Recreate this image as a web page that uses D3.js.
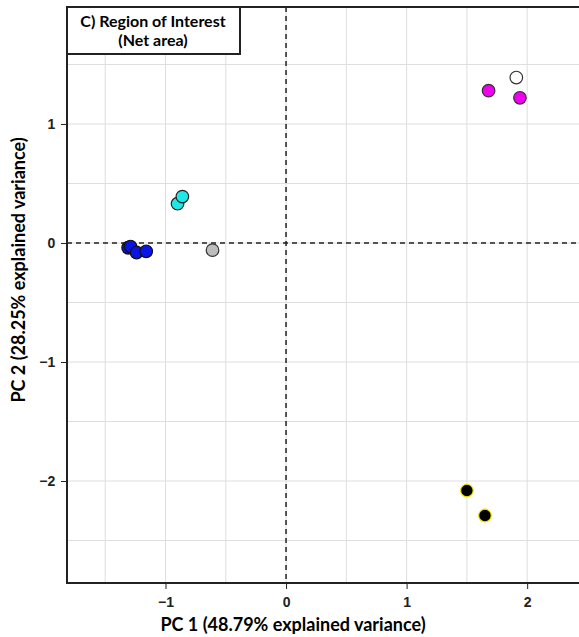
<!DOCTYPE html>
<html>
<head>
<meta charset="utf-8">
<script src="https://cdn.jsdelivr.net/npm/d3@7"></script>
<style>
  body { margin: 0; background: #fff; }
  svg { display: block; font-family: Lato, "Open Sans", sans-serif; }
</style>
</head>
<body>
<svg id="chart" width="579" height="637"></svg>
<script>
// PCA scores
var groups = ["blue", "cyan", "gray", "magenta", "white", "black"];
var pc1 = [-1.31, -1.29, -1.24, -1.16, -0.90, -0.86, -0.61, 1.68, 1.94, 1.91, 1.50, 1.65];
var pc2 = [-0.04, -0.03, -0.08, -0.07, 0.33, 0.39, -0.06, 1.28, 1.22, 1.39, -2.08, -2.29];
var group = ["blue", "blue", "blue", "blue", "cyan", "cyan", "gray", "magenta", "magenta", "white", "black", "black"];
var fills = ["#0a14e6", "#1ee8e6", "#bdbdbd", "#f000f0", "#ffffff", "#000000"];
var strokes = ["#111", "#222", "#333", "#333", "#333", "#f0e000"];
var xTicks = [-1, 0, 1, 2];
var yTicks = [-2, -1, 0, 1];

var data = pc1.map(function (d, i) { return { x: d, y: pc2[i], g: group[i] }; });

var margin = { top: 7, right: 0, bottom: 54, left: 67 };
var svg = d3.select("#chart");
var width = 579 - margin.left - margin.right;
var height = 637 - margin.top - margin.bottom;

var g = svg.append("g")
    .attr("transform", "translate(" + margin.left + "," + margin.top + ")");

var x = d3.scaleLinear().domain([-1.817, 2.43]).range([0, width]);
var y = d3.scaleLinear().domain([1.983, -2.857]).range([0, height]);

var fillScale = d3.scaleOrdinal().domain(groups).range(fills);
var strokeScale = d3.scaleOrdinal().domain(groups).range(strokes);

// grid every 0.5
var xGrid = d3.range(-1.5, 2.51, 0.5);
var yGrid = d3.range(-2.5, 1.51, 0.5);
g.selectAll(".gx").data(xGrid).enter().append("line")
    .attr("x1", d => x(d)).attr("x2", d => x(d))
    .attr("y1", 0).attr("y2", height)
    .attr("stroke", "#dedede").attr("stroke-width", 1);
g.selectAll(".gy").data(yGrid).enter().append("line")
    .attr("y1", d => y(d)).attr("y2", d => y(d))
    .attr("x1", 0).attr("x2", width)
    .attr("stroke", "#dedede").attr("stroke-width", 1);

// zero lines
g.append("line")
    .attr("x1", x(0)).attr("x2", x(0)).attr("y1", 0).attr("y2", height)
    .attr("stroke", "#222").attr("stroke-width", 1.5).attr("stroke-dasharray", "5,4");
g.append("line")
    .attr("y1", y(0)).attr("y2", y(0)).attr("x1", 0).attr("x2", width)
    .attr("stroke", "#222").attr("stroke-width", 1.5).attr("stroke-dasharray", "5,4");

// points
g.selectAll(".dot").data(data).enter().append("circle")
    .attr("cx", d => x(d.x))
    .attr("cy", d => y(d.y))
    .attr("r", 6.3)
    .attr("fill", d => fillScale(d.g))
    .attr("stroke", d => strokeScale(d.g))
    .attr("stroke-width", 1.2);

// frame (right side runs past the window)
g.append("rect")
    .attr("x", 0).attr("y", 0)
    .attr("width", width + 20).attr("height", height)
    .attr("fill", "none").attr("stroke", "#222").attr("stroke-width", 2);

// axes
var xAxis = g.append("g")
    .attr("transform", "translate(0," + height + ")")
    .call(d3.axisBottom(x).tickValues(xTicks).tickSize(6).tickFormat(d3.format("d")));
var yAxis = g.append("g")
    .call(d3.axisLeft(y).tickValues(yTicks).tickSize(6).tickFormat(d3.format("d")));
[xAxis, yAxis].forEach(function (a) {
    a.select(".domain").remove();
    a.selectAll("line").attr("stroke", "#222");
    a.selectAll("text").attr("fill", "#222").style("font-size", "14px").style("font-weight", "bold");
});
xAxis.selectAll("text").attr("dy", "1.1em");
yAxis.selectAll("text").attr("dx", "-0.2em");

// title box
g.append("rect")
    .attr("x", 0).attr("y", 0).attr("width", 173).attr("height", 47)
    .attr("fill", "#fff").attr("stroke", "#222").attr("stroke-width", 2);
g.append("text")
    .attr("x", 86).attr("y", 20)
    .attr("text-anchor", "middle")
    .style("font-size", "16px").style("font-weight", "bold")
    .text("C) Region of Interest");
g.append("text")
    .attr("x", 86).attr("y", 39)
    .attr("text-anchor", "middle")
    .style("font-size", "16px").style("font-weight", "bold")
    .text("(Net area)");

// axis titles
svg.append("text")
    .attr("x", 293).attr("y", 631)
    .attr("text-anchor", "middle")
    .style("font-size", "18px").style("font-weight", "bold")
    .text("PC 1 (48.79% explained variance)");
svg.append("text")
    .attr("transform", "translate(25,270) rotate(-90)")
    .attr("text-anchor", "middle")
    .style("font-size", "18px").style("font-weight", "bold")
    .text("PC 2 (28.25% explained variance)");
</script>
</body>
</html>
